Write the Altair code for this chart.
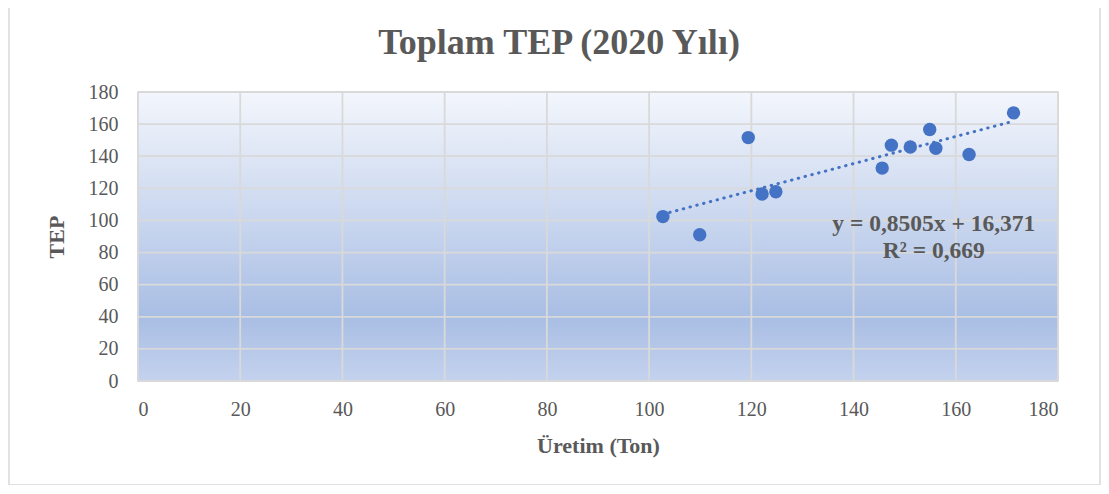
import altair as alt
import pandas as pd

# Data
uretim = [102.7, 109.9, 119.4, 122.1, 124.8, 145.6, 147.4, 151.1, 154.9, 156.1, 162.6, 171.3]
tep = [102.4, 91.1, 151.6, 116.5, 117.9, 132.6, 146.9, 145.7, 156.6, 145.0, 141.1, 167.0]
ticks = [0, 20, 40, 60, 80, 100, 120, 140, 160, 180]
equation_lines = ["y = 0,8505x + 16,371", "R² = 0,669"]
eq_pos = {"x": [155.7], "y": [97.5]}
title_text = "Toplam TEP (2020 Yılı)"

df = pd.DataFrame({"x": uretim, "y": tep})
grid_df = pd.DataFrame({"t": ticks})
eq_df = pd.DataFrame({"x": eq_pos["x"], "y": eq_pos["y"], "label": ["\n".join(equation_lines)]})

W, H = 920, 289
GRAY = "#595959"
BLUE = "#4472c4"
SERIF = "Liberation Serif"

xs = alt.Scale(domain=[0, 180], nice=False)
ys = alt.Scale(domain=[0, 180], nice=False)
xaxis = alt.Axis(values=ticks, grid=False, title="Üretim (Ton)", ticks=False,
                 domain=False, labelPadding=18, titlePadding=16, labelOverlap=False)
yaxis = alt.Axis(values=ticks, grid=False, title="TEP", ticks=False,
                 domain=False, labelPadding=20, titlePadding=20, labelOverlap=False)

gradient = alt.LinearGradient(
    gradient="linear", x1=0, y1=0, x2=0, y2=1,
    stops=[
        alt.GradientStop(offset=0, color="#f3f6fc"),
        alt.GradientStop(offset=0.78, color="#a9bee4"),
        alt.GradientStop(offset=1, color="#c4d2ee"),
    ],
)

one = pd.DataFrame({"a": [0]})

bg = alt.Chart(one).mark_rect(color=gradient).encode(
    x=alt.value(0), x2=alt.value(W), y=alt.value(0), y2=alt.value(H)
)

border = alt.Chart(one).mark_rect(
    fill=None, stroke="#d9d9d9", strokeWidth=1.5, clip=False
).encode(
    x=alt.value(-129), x2=alt.value(962), y=alt.value(-120), y2=alt.value(393)
)

title = alt.Chart(pd.DataFrame({"t": [title_text]})).mark_text(
    font=SERIF, fontSize=36, fontWeight="bold", color=GRAY, align="center",
    baseline="alphabetic"
).encode(x=alt.value(421), y=alt.value(-38), text="t:N")

vgrid = alt.Chart(grid_df).mark_rule(color="#d9d9d9", strokeWidth=1.8).encode(
    x=alt.X("t:Q", scale=xs, axis=xaxis),
    y=alt.value(0), y2=alt.value(H),
)
hgrid = alt.Chart(grid_df).mark_rule(color="#d9d9d9", strokeWidth=1.8).encode(
    y=alt.Y("t:Q", scale=ys, axis=yaxis),
    x=alt.value(0), x2=alt.value(W),
)

trend = alt.Chart(df).transform_regression("x", "y").mark_line(
    color=BLUE, strokeWidth=3, strokeDash=[0.5, 6.5], strokeCap="round"
).encode(x=alt.X("x:Q", scale=xs, axis=xaxis), y=alt.Y("y:Q", scale=ys, axis=yaxis))

points = alt.Chart(df).mark_circle(color=BLUE, size=180, opacity=1).encode(
    x=alt.X("x:Q", scale=xs, axis=xaxis), y=alt.Y("y:Q", scale=ys, axis=yaxis)
)

eq = alt.Chart(eq_df).mark_text(
    font=SERIF, fontSize=23.5, fontWeight="bold", color=GRAY, align="center",
    baseline="middle", lineBreak="\n", lineHeight=27
).encode(x=alt.X("x:Q", scale=xs, axis=xaxis), y=alt.Y("y:Q", scale=ys, axis=yaxis),
         text="label:N")

chart = alt.layer(bg, border, vgrid, hgrid, trend, points, eq, title).properties(
    width=W, height=H,
    background="white",
    autosize=alt.AutoSizeParams(type="none"),
    padding={"left": 130, "top": 84, "right": 43, "bottom": 104},
).configure_view(stroke="#d9d9d9", strokeWidth=1.5).configure_axis(
    labelFont=SERIF, labelFontSize=20, labelColor=GRAY,
    titleFont=SERIF, titleFontSize=22, titleFontWeight="bold", titleColor=GRAY,
)

chart.save("out.html", embed_options={"renderer": "svg", "actions": False})
